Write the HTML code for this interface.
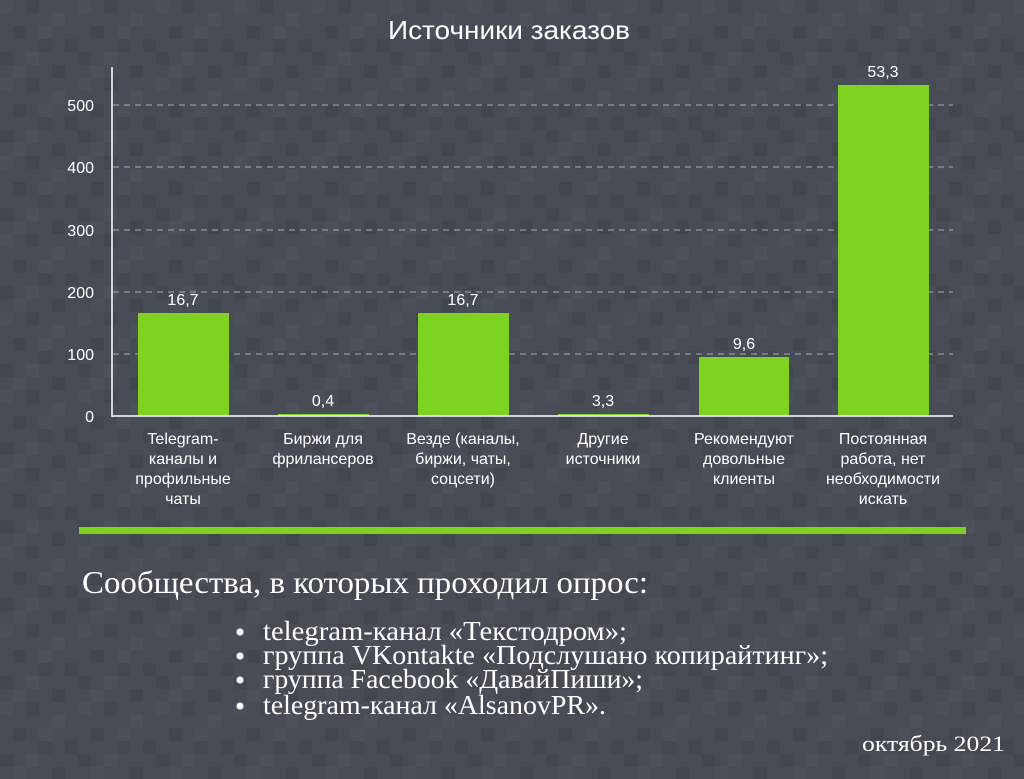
<!DOCTYPE html>
<html><head><meta charset="utf-8"><style>
html,body{margin:0;padding:0;background:#484d56;}
svg{display:block;}
</style></head><body>
<svg width="1024" height="779" viewBox="0 0 1024 779" xmlns="http://www.w3.org/2000/svg">
<defs>
<pattern id="bg" x="0" y="0" width="78" height="78" patternUnits="userSpaceOnUse">
<rect width="78" height="78" fill="#474c55"/>
<rect x="0" y="0" width="13" height="13" fill="#4b5059"/>
<rect x="26" y="0" width="13" height="13" fill="#43484f"/>
<rect x="52" y="13" width="13" height="13" fill="#4c515a"/>
<rect x="13" y="26" width="13" height="13" fill="#42474e"/>
<rect x="39" y="26" width="13" height="13" fill="#4b5059"/>
<rect x="65" y="39" width="13" height="13" fill="#43484f"/>
<rect x="0" y="52" width="13" height="13" fill="#43484f"/>
<rect x="26" y="52" width="13" height="13" fill="#4c515a"/>
<rect x="52" y="65" width="13" height="13" fill="#42474e"/>
<rect x="13" y="65" width="13" height="13" fill="#4b5059"/>
<rect x="39" y="39" width="13" height="13" fill="#44494f"/>
</pattern>
</defs>
<rect width="1024" height="779" fill="url(#bg)"/>

<text x="509" y="39" text-anchor="middle" font-family="Liberation Sans, sans-serif" font-size="26" fill="#fff" textLength="242" lengthAdjust="spacingAndGlyphs">Источники заказов</text>

<g stroke="#a9acb1" stroke-width="1" stroke-dasharray="6,5">
<line x1="113" y1="105" x2="953" y2="105"/>
<line x1="113" y1="167" x2="953" y2="167"/>
<line x1="113" y1="230" x2="953" y2="230"/>
<line x1="113" y1="292" x2="953" y2="292"/>
<line x1="113" y1="354" x2="953" y2="354"/>
</g>
<g font-family="Liberation Sans, sans-serif" font-size="16" fill="#fff" text-anchor="end">
<text x="94" y="111">500</text>
<text x="94" y="173">400</text>
<text x="94" y="236">300</text>
<text x="94" y="298">200</text>
<text x="94" y="360">100</text>
<text x="94" y="422">0</text>
</g>
<g fill="#7ed321">
<rect x="138" y="313" width="91" height="103"/>
<rect x="278" y="414" width="91" height="2"/>
<rect x="418" y="313" width="91" height="103"/>
<rect x="558" y="414" width="91" height="2"/>
<rect x="699" y="357" width="90" height="59"/>
<rect x="838" y="85" width="91" height="331"/>
</g>
<line x1="112" y1="67" x2="112" y2="417" stroke="#fff" stroke-width="1.5"/>
<line x1="112" y1="416" x2="953" y2="416" stroke="#fff" stroke-width="1.5"/>

<g font-family="Liberation Sans, sans-serif" font-size="16" fill="#fff" text-anchor="middle">
<text x="183" y="305">16,7</text>
<text x="323" y="406">0,4</text>
<text x="463" y="305">16,7</text>
<text x="603" y="406">3,3</text>
<text x="744" y="349">9,6</text>
<text x="883" y="77">53,3</text>
</g>
<g font-family="Liberation Sans, sans-serif" font-size="16" fill="#fff" text-anchor="middle">
<text x="183" y="444">Telegram-</text><text x="183" y="464">каналы и</text><text x="183" y="484">профильные</text><text x="183" y="504">чаты</text>
<text x="323" y="444">Биржи для</text><text x="323" y="464">фрилансеров</text>
<text x="463" y="444">Везде (каналы,</text><text x="463" y="464">биржи, чаты,</text><text x="463" y="484">соцсети)</text>
<text x="603" y="444">Другие</text><text x="603" y="464">источники</text>
<text x="744" y="444">Рекомендуют</text><text x="744" y="464">довольные</text><text x="744" y="484">клиенты</text>
<text x="883" y="444">Постоянная</text><text x="883" y="464">работа, нет</text><text x="883" y="484">необходимости</text><text x="883" y="504">искать</text>
</g>

<rect x="79" y="527" width="887" height="7" fill="#7ed321"/>

<g font-family="Liberation Serif, serif" fill="#fff">
<text x="82" y="593" font-size="32" textLength="566" lengthAdjust="spacingAndGlyphs">Сообщества, в которых проходил опрос:</text>
<circle cx="240" cy="632" r="3.5"/>
<circle cx="240" cy="656" r="3.5"/>
<circle cx="240" cy="680" r="3.5"/>
<circle cx="240" cy="706" r="3.5"/>
<text x="263" y="640" font-size="27" textLength="364" lengthAdjust="spacingAndGlyphs">telegram-канал «Текстодром»;</text>
<text x="263" y="664" font-size="27" textLength="565" lengthAdjust="spacingAndGlyphs">группа VKontakte «Подслушано копирайтинг»;</text>
<text x="263" y="688" font-size="27" textLength="380" lengthAdjust="spacingAndGlyphs">группа Facebook «ДавайПиши»;</text>
<text x="263" y="714" font-size="27" textLength="343" lengthAdjust="spacingAndGlyphs">telegram-канал «AlsanovPR».</text>
<text x="1005" y="751" font-size="22" text-anchor="end" textLength="143" lengthAdjust="spacingAndGlyphs">октябрь 2021</text>
</g>
</svg>
</body></html>
